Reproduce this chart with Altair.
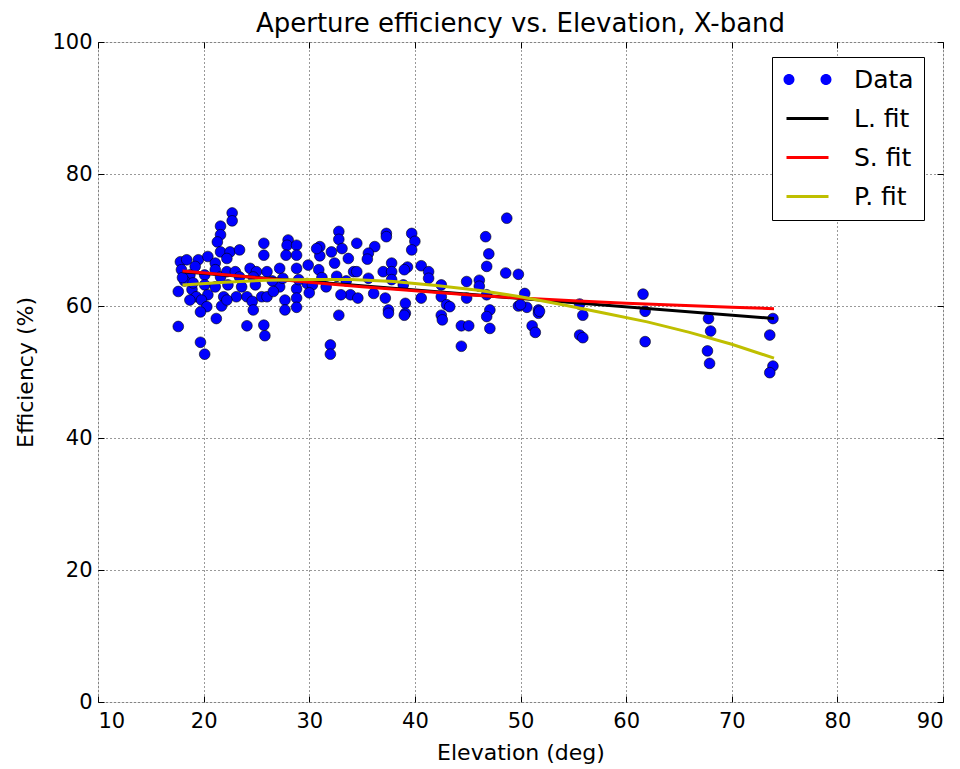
import altair as alt
import pandas as pd

# ---- measured data (Elevation deg, Efficiency %) ----
data_x = [
    17.8, 18.4, 19.5, 19.2, 17.9, 18.7, 20.1, 17.6, 18.9, 20.1, 19.3, 20.4, 18.7, 19.8, 20.3, 19.7, 17.6, 19.7, 20.1,
    20.4, 21.1, 21.1, 21.6, 21.1, 21.9, 21.7, 21.2, 21.6, 21.6, 21.3, 21.6, 22.7, 22.7, 22.5, 23.4, 22.2, 22.2, 23.0,
    23.4, 22.3, 23.6, 23.1, 22.2, 24.4, 25.0, 24.7, 24.9, 24.1, 24.6, 24.7, 24.1, 25.5, 25.8, 18.2, 19.0, 18.0,
    25.7, 25.7, 28.0, 27.9, 28.8, 27.8, 28.8, 31.0, 31.0, 32.8, 32.8, 32.1, 33.1, 33.7, 32.4, 26.0, 27.2, 28.8,
    29.9, 30.9, 34.2, 32.6, 27.2, 28.8, 29.8, 26.0, 27.7, 28.8, 27.7, 28.8, 32.8, 25.7, 32.0, 32.0, 33.9, 33.0,
    31.6, 30.7, 26.5, 27.5, 29.0, 30.3, 31.2, 33.5, 30.0, 26.6,
    37.3, 37.3, 39.7, 40.0, 39.7, 34.5, 36.2, 35.6, 35.5, 37.8, 39.3, 40.6, 41.3, 37.0, 37.8, 34.5, 37.8, 39.0,
    41.3, 42.5, 35.6, 38.9, 36.1, 34.6, 37.2, 40.6, 42.5, 43.0, 39.1, 37.5, 37.5, 39.1, 39.0, 42.5, 42.6,
    48.7, 46.7, 47.0, 46.8, 48.6, 49.8, 44.9, 46.1, 46.1, 44.9, 46.8, 50.4, 43.3, 49.8, 50.6, 51.7, 51.7, 47.1,
    46.8, 44.4, 45.1, 47.1, 51.1, 51.4, 44.4,
    55.6, 55.9, 55.6, 55.9, 61.6, 61.8, 61.8, 67.8, 68.0, 67.7, 67.9, 73.9, 73.6, 73.9, 73.6, 50.0, 51.8,
]
data_y = [
    66.7, 67.0, 67.0, 66.0, 65.5, 64.7, 64.7, 62.2, 62.5, 63.2, 61.4, 61.7, 60.9, 60.9, 59.9, 59.1, 56.9, 54.5, 52.7,
    67.5, 66.5, 65.5, 64.4, 62.9, 61.4, 60.0, 58.1, 72.1, 70.8, 69.7, 68.2, 74.1, 72.9, 68.2, 68.5, 67.2, 65.2, 65.2,
    64.4, 63.2, 62.9, 61.4, 60.9, 65.7, 65.2, 64.4, 63.2, 61.4, 60.7, 59.4, 57.0, 61.4, 55.5, 63.8, 63.5, 64.3,
    69.5, 67.7, 70.0, 69.2, 69.2, 67.7, 67.7, 69.0, 67.6, 71.3, 70.1, 68.2, 68.7, 67.2, 66.5, 65.2, 65.7, 65.7,
    66.2, 65.5, 65.2, 64.5, 62.9, 62.6, 63.4, 61.4, 60.9, 61.2, 59.4, 59.8, 58.6, 57.1, 54.1, 52.7, 61.7, 61.7,
    62.9, 68.7, 63.8, 64.2, 64.0, 63.2, 64.3, 63.8, 62.0, 62.2,
    71.0, 70.5, 71.0, 69.8, 68.5, 69.5, 69.0, 68.0, 67.1, 66.5, 65.9, 66.1, 65.2, 65.2, 65.2, 65.2, 64.0, 65.5,
    64.2, 63.2, 64.2, 63.2, 61.9, 61.2, 61.2, 61.2, 61.4, 60.2, 60.4, 59.4, 58.9, 58.9, 58.6, 58.6, 57.9,
    73.3, 70.5, 67.9, 66.0, 65.0, 64.8, 63.7, 63.9, 63.0, 61.2, 61.7, 61.9, 59.9, 60.0, 59.8, 59.4, 58.9, 59.4,
    58.4, 57.0, 57.0, 56.6, 57.0, 56.0, 53.9,
    60.3, 58.6, 55.6, 55.2, 61.8, 59.2, 54.6, 58.1, 56.2, 53.2, 51.3, 58.1, 55.6, 50.9, 49.9, 60.2, 59.2,
]

lfit_x = [18, 74]
lfit_y = [65.2, 58.1]
sfit_x = [18, 25, 30, 35, 40, 45, 50, 55, 60, 65, 70, 74]
sfit_y = [65.3, 64.3, 63.6, 62.9, 62.3, 61.7, 61.2, 60.8, 60.4, 60.1, 59.8, 59.6]
pfit_x = [18, 22, 26, 30, 34, 38, 42, 46, 50, 54, 58, 62, 66, 70, 74]
pfit_y = [63.2, 63.6, 63.9, 64.0, 64.0, 63.7, 63.1, 62.4, 61.4, 60.2, 58.9, 57.6, 56.0, 54.2, 52.1]

series = ["Data", "L. fit", "S. fit", "P. fit"]
series_colors = ["#0000ff", "#000000", "#ff0000", "#bfbf00"]

x_ticks = [10, 20, 30, 40, 50, 60, 70, 80, 90]
y_ticks = [0, 20, 40, 60, 80, 100]

FONT = "DejaVu Sans"

points_df = pd.DataFrame({"x": data_x, "y": data_y})
legend_df = pd.DataFrame({"series": series})

xscale = alt.Scale(domain=[10, 90], nice=False, zero=False)
yscale = alt.Scale(domain=[0, 100], nice=False, zero=False)

x_axis = alt.Axis(values=x_ticks, title="Elevation (deg)", grid=True, gridColor="#000000",
                  gridDash=[1, 3], gridOpacity=0.8, gridWidth=1, domain=False, offset=-6,
                  tickSize=6, tickColor="#000000", labelFontSize=21, labelFont=FONT,
                  labelColor="#000000", labelPadding=8, titleFont=FONT, titleFontSize=22,
                  titleFontWeight="normal", titleColor="#000000", titlePadding=11, format="d")
y_axis = alt.Axis(values=y_ticks, title="Efficiency (%)", grid=True, gridColor="#000000",
                  gridDash=[1, 3], gridOpacity=0.8, gridWidth=1, domain=False, offset=-6,
                  tickSize=6, tickColor="#000000", labelFontSize=21, labelFont=FONT,
                  labelColor="#000000", labelPadding=6, titleFont=FONT, titleFontSize=22,
                  titleFontWeight="normal", titleColor="#000000", titlePadding=14, format="d")
x_axis_top = alt.Axis(values=x_ticks, orient="top", labels=False, title=None, grid=False,
                      domain=False, offset=-6, tickSize=6, tickColor="#000000")
y_axis_right = alt.Axis(values=y_ticks, orient="right", labels=False, title=None, grid=False,
                        domain=False, offset=-6, tickSize=6, tickColor="#000000")

scatter = alt.Chart(points_df).mark_circle(size=115, color="#0000ff", opacity=1,
                                           stroke="#000000", strokeWidth=0.6).encode(
    x=alt.X("x:Q", scale=xscale, axis=x_axis),
    y=alt.Y("y:Q", scale=yscale, axis=y_axis),
)

mirror = alt.Chart(points_df).mark_point(opacity=0).encode(
    x=alt.X("x:Q", scale=xscale, axis=x_axis_top),
    y=alt.Y("y:Q", scale=yscale, axis=y_axis_right),
)


def fit_line(xs, ys, colour):
    df = pd.DataFrame({"x": xs, "y": ys})
    return alt.Chart(df).mark_line(strokeWidth=3, color=colour).encode(
        x=alt.X("x:Q", scale=xscale, axis=None),
        y=alt.Y("y:Q", scale=yscale, axis=None),
        order=alt.Order("x:Q"),
    )


line_l = fit_line(lfit_x, lfit_y, series_colors[1])
line_s = fit_line(sfit_x, sfit_y, series_colors[2])
line_p = fit_line(pfit_x, pfit_y, series_colors[3])

# Legend symbols: two dots for Data, short thick bars for fits (scaled within a 25px box)
dots = ("M-1.92,0 A0.44,0.44 0 1,0 -1.04,0 A0.44,0.44 0 1,0 -1.92,0 Z "
        "M1.04,0 A0.44,0.44 0 1,0 1.92,0 A0.44,0.44 0 1,0 1.04,0 Z")
bar = "M-1.68,-0.12 L1.68,-0.12 L1.68,0.12 L-1.68,0.12 Z"

legend = alt.Legend(title=None, orient="none", legendX=674, legendY=15, symbolSize=625,
                    symbolOffset=13, labelOffset=34, labelFont=FONT, labelFontSize=25,
                    labelColor="#000000", padding=10, rowPadding=13, strokeColor="#000000",
                    fillColor="#ffffff", symbolStrokeWidth=0, symbolOpacity=1, labelLimit=300)

# carrier of the legend, tucked under the legend box
legend_layer = alt.Chart(legend_df).mark_point(filled=True, size=4, opacity=1).encode(
    x=alt.value(760), y=alt.value(100),
    color=alt.Color("series:N", scale=alt.Scale(domain=series, range=series_colors), legend=legend,
                    sort=series),
    shape=alt.Shape("series:N", scale=alt.Scale(domain=series, range=[dots, bar, bar, bar]),
                    legend=legend, sort=series),
)

chart = alt.layer(scatter, mirror, line_l, line_s, line_p, legend_layer).resolve_axis(
    x="independent", y="independent"
).properties(
    width=845, height=660,
    title=alt.TitleParams("Aperture efficiency vs. Elevation, X-band", font=FONT, fontSize=26,
                          fontWeight="normal", color="#000000", offset=8, dy=14, anchor="middle"),
    autosize=alt.AutoSizeParams(type="none"),
    padding={"left": 98, "top": 42, "right": 17, "bottom": 67},
).configure_view(stroke="#000000", strokeWidth=1.2).configure(background="#ffffff")

chart.save("out.html", embed_options={"renderer": "svg", "actions": False})
